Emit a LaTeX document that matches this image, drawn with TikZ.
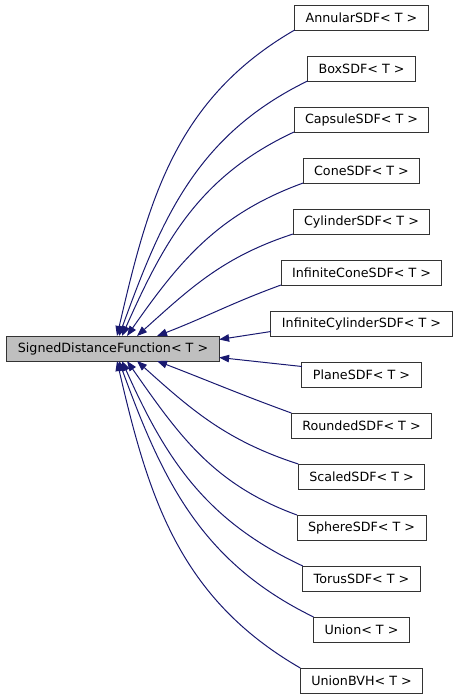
\documentclass[tikz,border=0pt]{standalone}
\usepackage{fontspec}
\setmainfont{DejaVu Sans}
\usetikzlibrary{arrows.meta,positioning}
\definecolor{edgeblue}{HTML}{191970}
\definecolor{basegrey}{HTML}{BFBFBF}
\tikzset{
  inherit/.style={->, line width=1pt, draw=edgeblue, >={Triangle[length=10pt,width=7.5pt]}},
  cls/.style={draw=black!80, line width=1pt, rectangle, minimum height=25pt, inner xsep=11pt, inner ysep=0pt, outer sep=0pt, fill=white, font=\fontsize{12.7}{15}\selectfont},
  basecls/.style={cls, fill=basegrey}
}

\begin{document}
\begin{tikzpicture}[node distance=26pt]
  \useasboundingbox (0,0) rectangle (460pt,-696pt);
  \node[basecls] (base) at (113pt,-348.5pt) {SignedDistanceFunction< T >};
  \node[cls] (annular) at (361.5pt,-17.5pt) {AnnularSDF< T >};
  \node[cls, below=of annular] (box) {BoxSDF< T >};
  \node[cls, below=of box] (capsule) {CapsuleSDF< T >};
  \node[cls, below=of capsule] (cone) {ConeSDF< T >};
  \node[cls, below=of cone] (cylinder) {CylinderSDF< T >};
  \node[cls, below=of cylinder] (infcone) {InfiniteConeSDF< T >};
  \node[cls, below=of infcone] (infcyl) {InfiniteCylinderSDF< T >};
  \node[cls, below=of infcyl] (plane) {PlaneSDF< T >};
  \node[cls, below=of plane] (rounded) {RoundedSDF< T >};
  \node[cls, below=of rounded] (scaled) {ScaledSDF< T >};
  \node[cls, below=of scaled] (sphere) {SphereSDF< T >};
  \node[cls, below=of sphere] (torus) {TorusSDF< T >};
  \node[cls, below=of torus] (union) {Union< T >};
  \node[cls, below=of union] (unionbvh) {UnionBVH< T >};

  % upper children
  \draw[inherit] (annular.south west) to[out=210, in=77] ([xshift=4pt]base.north);
  \draw[inherit] (box.south west) to[out=206, in=70] ([xshift=6pt]base.north);
  \draw[inherit] (capsule.south west) to[out=205, in=66] ([xshift=9pt]base.north);
  \draw[inherit] (cone.south west) to[out=200, in=55] ([xshift=14pt]base.north);
  \draw[inherit] (cylinder.south west) to[out=198, in=42] ([xshift=24pt]base.north);
  \draw[inherit] (infcone.south west) to[out=200, in=21] ([xshift=44pt]base.north);
  \draw[inherit] ([yshift=-8pt]infcyl.west) -- ([yshift=9pt]base.east);

  % lower children
  \draw[inherit] ([yshift=8pt]plane.west) -- ([yshift=-9pt]base.east);
  \draw[inherit] (rounded.north west) to[out=160, in=-21] ([xshift=44pt]base.south);
  \draw[inherit] (scaled.north west) to[out=162, in=-42] ([xshift=24pt]base.south);
  \draw[inherit] (sphere.north west) to[out=160, in=-55] ([xshift=14pt]base.south);
  \draw[inherit] (torus.north west) to[out=155, in=-66] ([xshift=9pt]base.south);
  \draw[inherit] (union.north west) to[out=154, in=-70] ([xshift=6pt]base.south);
  \draw[inherit] (unionbvh.north west) to[out=150, in=-77] ([xshift=4pt]base.south);
\end{tikzpicture}
\end{document}
